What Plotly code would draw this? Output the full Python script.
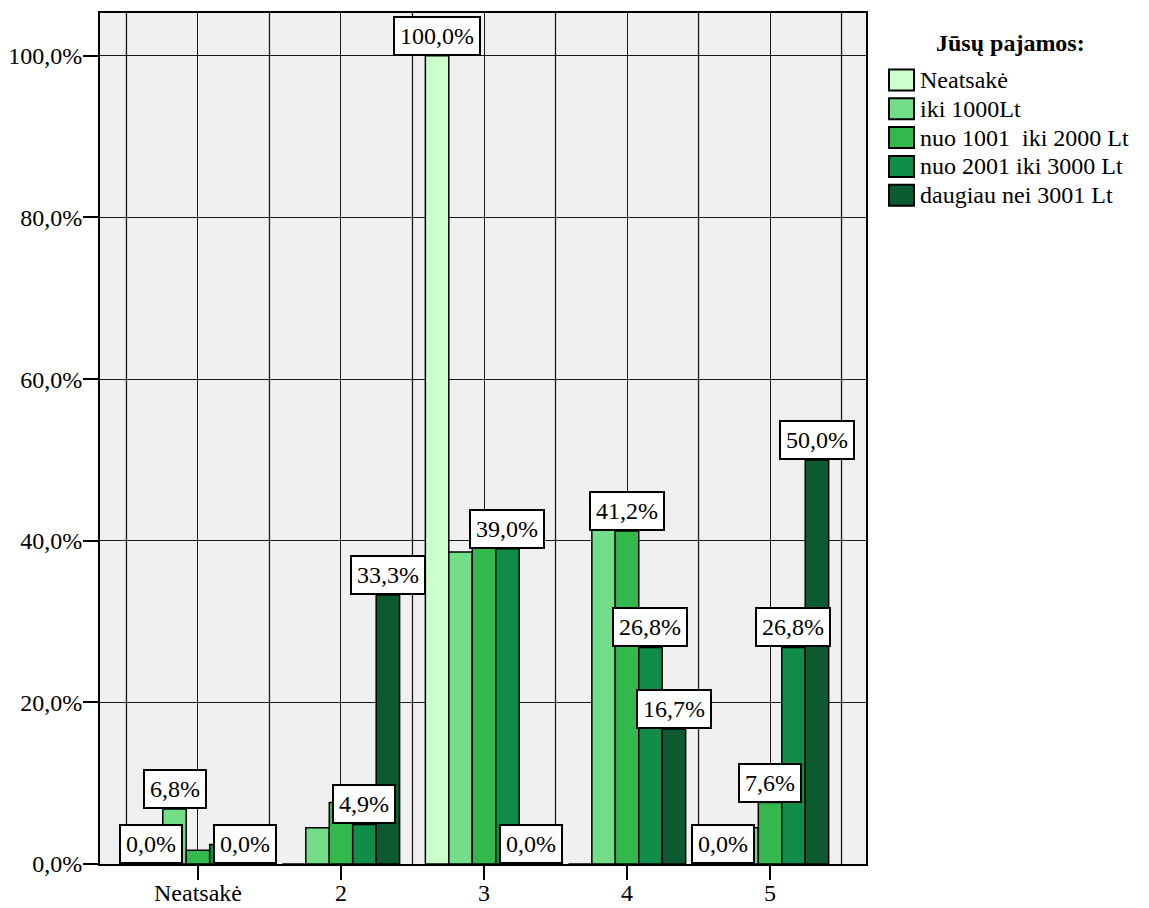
import plotly.graph_objects as go

# Categories on the x axis (rating given)
categories = ["Neatsakė", "2", "3", "4", "5"]

# Income groups (series) and their colours
series_names = [
    "Neatsakė",
    "iki 1000Lt",
    "nuo 1001\u00a0 iki 2000 Lt",
    "nuo 2001 iki 3000 Lt",
    "daugiau nei 3001 Lt",
]
series_colors = ["#CCFFCC", "#73DD88", "#33B84D", "#118D4A", "#0C5A2F"]

# Column percentages per income group
neatsake = [0.0, 0.0, 100.0, 0.0, 0.0]
iki_1000 = [6.8, 4.5, 38.6, 45.5, 4.5]
nuo_1001 = [1.7, 7.6, 42.0, 41.2, 7.6]
nuo_2001 = [2.4, 4.9, 39.0, 26.8, 26.8]
daugiau_3001 = [0.0, 33.3, 0.0, 16.7, 50.0]
series_values = [neatsake, iki_1000, nuo_1001, nuo_2001, daugiau_3001]

# Which bars carry a value label: (category index, series index)
labelled_bars = [
    (0, 0), (0, 1), (0, 4),
    (1, 3), (1, 4),
    (2, 0), (2, 3), (2, 4),
    (3, 2), (3, 3), (3, 4),
    (4, 0), (4, 2), (4, 3), (4, 4),
]

# Y axis ticks
y_ticks = [0, 20, 40, 60, 80, 100]
y_tick_labels = ["0,0%", "20,0%", "40,0%", "60,0%", "80,0%", "100,0%"]

legend_title = "Jūsų pajamos:"

FONT = "Liberation Serif"
W, H = 1149, 908
L, R, T, B = 100, 283, 13, 44
PW, PH = W - L - R, H - T - B
BARGAP = 0.18
n_series = len(series_names)
bar_w = (1 - BARGAP) / n_series


def pct(v):
    return f"{v:.1f}%".replace(".", ",")


def px_x(px):
    return (px - L) / PW


def px_y(py):
    return (H - B - py) / PH


fig = go.Figure()
for name, color, vals in zip(series_names, series_colors, series_values):
    fig.add_trace(go.Bar(
        x=categories, y=vals, name=name,
        marker=dict(color=color, line=dict(color="#000000", width=1.5)),
        showlegend=False,
    ))

annotations = []
for ci, si in labelled_bars:
    v = series_values[si][ci]
    annotations.append(dict(
        x=ci + (si - (n_series - 1) / 2) * bar_w, y=v,
        xref="x", yref="y", xanchor="center", yanchor="bottom",
        text=pct(v), showarrow=False,
        font=dict(family=FONT, size=24, color="#000000"),
        bgcolor="#FFFFFF", bordercolor="#000000", borderwidth=2, borderpad=5,
    ))

shapes = []
# vertical grid lines between categories
for k in range(len(categories) + 1):
    shapes.append(dict(
        type="line", xref="x", yref="paper", x0=k - 0.5, x1=k - 0.5, y0=0, y1=1,
        line=dict(color="#1A1A1A", width=1.3), layer="below",
    ))

# legend drawn beside the plot
annotations.append(dict(
    x=px_x(1010), y=px_y(43), xref="paper", yref="paper",
    xanchor="center", yanchor="middle", showarrow=False,
    text="<b>" + legend_title + "</b>",
    font=dict(family=FONT, size=24, color="#000000"),
))
row0, row_step = 80, 28.8
for i, (name, color) in enumerate(zip(series_names, series_colors)):
    cy = row0 + i * row_step
    shapes.append(dict(
        type="rect", xref="paper", yref="paper",
        x0=px_x(889), x1=px_x(914), y0=px_y(cy - 10.5), y1=px_y(cy + 10.5),
        fillcolor=color, line=dict(color="#000000", width=2),
    ))
    annotations.append(dict(
        x=px_x(918), y=px_y(cy), xref="paper", yref="paper",
        xanchor="left", yanchor="middle", showarrow=False, text=name,
        font=dict(family=FONT, size=24, color="#000000"),
    ))

fig.update_layout(
    width=W, height=H,
    margin=dict(l=L, r=R, t=T, b=B, autoexpand=False),
    paper_bgcolor="#FFFFFF", plot_bgcolor="#F0F0F0",
    barmode="group", bargap=BARGAP, bargroupgap=0,
    font=dict(family=FONT, size=24, color="#000000"),
    annotations=annotations, shapes=shapes,
    xaxis=dict(
        type="category", range=[-0.685, 4.671],
        showgrid=True, gridcolor="#1A1A1A", gridwidth=1.3,
        showline=True, linecolor="#000000", linewidth=2, mirror=True,
        ticks="outside", ticklen=14, tickwidth=2, tickcolor="#000000",
        ticklabelstandoff=-8,
        tickfont=dict(family=FONT, size=24), automargin=False,
    ),
    yaxis=dict(
        range=[0, 105.3], tickvals=y_ticks, ticktext=y_tick_labels,
        showgrid=True, gridcolor="#1A1A1A", gridwidth=1.3, zeroline=False,
        showline=True, linecolor="#000000", linewidth=2, mirror=True,
        ticks="outside", ticklen=15, tickwidth=2, tickcolor="#000000",
        ticklabelstandoff=-4,
        tickfont=dict(family=FONT, size=24), automargin=False,
    ),
)

fig.write_html("out.html")
